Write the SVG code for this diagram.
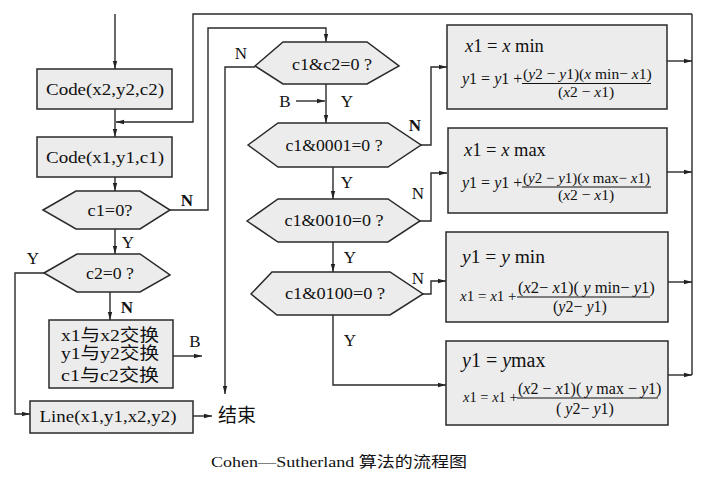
<svg xmlns="http://www.w3.org/2000/svg" width="703" height="478" viewBox="0 0 703 478">
<defs>
<marker id="ah" markerUnits="userSpaceOnUse" markerWidth="8" markerHeight="6" refX="8" refY="3" orient="auto">
<path d="M0,0.8 L8,3 L0,5.2 z" fill="#222"/>
</marker>
<style>
.box{fill:#ececec;stroke:#2a2a2a;stroke-width:1.5}
.ln{fill:none;stroke:#2a2a2a;stroke-width:1.4}
.t{font-family:"Liberation Serif","Noto Sans CJK SC",serif;fill:#111}
.c{text-anchor:middle}
.lb{font-family:"Liberation Serif",serif;font-size:17px;fill:#111;text-anchor:middle}
.b{font-weight:bold}
.i{font-style:italic}
.bar{stroke:#111;stroke-width:1}
</style>
</defs>
<rect width="703" height="478" fill="#fff"/>

<g id="connectors">
<path class="ln" d="M115,14 V69" marker-end="url(#ah)"/>
<path class="ln" d="M115,109 V137" marker-end="url(#ah)"/>
<path class="ln" d="M692,14 H193 V122 H116" marker-end="url(#ah)"/>
<path class="ln" d="M115,177 V191" marker-end="url(#ah)"/>
<path class="ln" d="M170,210 H208 V28 H326 V42" marker-end="url(#ah)"/>
<path class="ln" d="M115,229 V254" marker-end="url(#ah)"/>
<path class="ln" d="M44,273 H15 V414 H30" marker-end="url(#ah)"/>
<path class="ln" d="M110,292 V320" marker-end="url(#ah)"/>
<path class="ln" d="M173,356 H202" marker-end="url(#ah)"/>
<path class="ln" d="M193,416 H212" marker-end="url(#ah)"/>
<path class="ln" d="M255,67 H225 V394" marker-end="url(#ah)"/>
<path class="ln" d="M326,84 V123" marker-end="url(#ah)"/>
<path class="ln" d="M296,101 H325" marker-end="url(#ah)"/>
<path class="ln" d="M333,167 V199" marker-end="url(#ah)"/>
<path class="ln" d="M333,242 V272" marker-end="url(#ah)"/>
<path class="ln" d="M333,315 V385 H446" marker-end="url(#ah)"/>
<path class="ln" d="M421,145 H431 V67 H447" marker-end="url(#ah)"/>
<path class="ln" d="M420,221 H431 V173 H447" marker-end="url(#ah)"/>
<path class="ln" d="M423,294 H431 V281 H446" marker-end="url(#ah)"/>
<path class="ln" d="M667,61 H692" marker-end="url(#ah)"/>
<path class="ln" d="M667,172 H692" marker-end="url(#ah)"/>
<path class="ln" d="M668,282 H692" marker-end="url(#ah)"/>
<path class="ln" d="M668,375 H692" marker-end="url(#ah)"/>
<path class="ln" d="M692,14 V375"/>
<text class="lb b" x="187" y="206">N</text>
<text class="lb" x="128" y="248">Y</text>
<text class="lb" x="33" y="264">Y</text>
<text class="lb b" x="127" y="313">N</text>
<text class="lb" x="195" y="347">B</text>
<text class="lb" x="241" y="59">N</text>
<text class="lb" x="285" y="107">B</text>
<text class="lb" x="347" y="107">Y</text>
<text class="lb b" x="415" y="131">N</text>
<text class="lb" x="347" y="188">Y</text>
<text class="lb" x="418" y="199">N</text>
<text class="lb" x="350" y="263">Y</text>
<text class="lb" x="418" y="284">N</text>
<text class="lb" x="350" y="346">Y</text>
</g>

<g id="code2">
<rect class="box" x="37" y="69" width="135" height="40"/>
<text class="t c" x="105" y="95" font-size="17" textLength="118" lengthAdjust="spacingAndGlyphs">Code(x2,y2,c2)</text>
</g>
<g id="code1">
<rect class="box" x="37" y="137" width="135" height="40"/>
<text class="t c" x="105" y="163" font-size="17" textLength="118" lengthAdjust="spacingAndGlyphs">Code(x1,y1,c1)</text>
</g>
<g id="dec-c1">
<polygon class="box" points="43,210 76,191 140,191 170,210 140,229 76,229"/>
<text class="t c" x="110" y="216" font-size="17" textLength="45" lengthAdjust="spacingAndGlyphs">c1=0?</text>
</g>
<g id="dec-c2">
<polygon class="box" points="44,273 77,254 140,254 170,275 140,292 77,292"/>
<text class="t c" x="110" y="279" font-size="17" textLength="48" lengthAdjust="spacingAndGlyphs">c2=0 ?</text>
</g>
<g id="swap">
<rect class="box" x="49" y="320" width="124" height="68"/>
<text class="t" x="61" y="341" font-size="17" textLength="98" lengthAdjust="spacingAndGlyphs">x1与x2交换</text>
<text class="t" x="61" y="359" font-size="17" textLength="98" lengthAdjust="spacingAndGlyphs">y1与y2交换</text>
<text class="t" x="61" y="381" font-size="17" textLength="98" lengthAdjust="spacingAndGlyphs">c1与c2交换</text>
</g>
<g id="line">
<rect class="box" x="30" y="401" width="163" height="32"/>
<text class="t c" x="108" y="422" font-size="17" textLength="137" lengthAdjust="spacingAndGlyphs">Line(x1,y1,x2,y2)</text>
</g>
<g id="end">
<text class="t" x="218" y="422" font-size="19" fill="#333">结束</text>
</g>

<g id="dec-c1c2">
<polygon class="box" points="255,66 283,42 367,42 399,66 367,84 283,84"/>
<text class="t c" x="332" y="70" font-size="17" textLength="80" lengthAdjust="spacingAndGlyphs">c1&amp;c2=0 ?</text>
</g>
<g id="dec-0001">
<polygon class="box" points="248,145 278,123 388,123 421,145 388,167 278,167"/>
<text class="t c" x="334" y="151" font-size="17" textLength="97" lengthAdjust="spacingAndGlyphs">c1&amp;0001=0 ?</text>
</g>
<g id="dec-0010">
<polygon class="box" points="247,221 278,199 388,199 420,221 388,242 278,242"/>
<text class="t c" x="334" y="226" font-size="17" textLength="99" lengthAdjust="spacingAndGlyphs">c1&amp;0010=0 ?</text>
</g>
<g id="dec-0100">
<polygon class="box" points="251,294 272,272 390,272 423,294 390,315 277,315"/>
<text class="t c" x="335" y="299" font-size="17" textLength="100" lengthAdjust="spacingAndGlyphs">c1&amp;0100=0 ?</text>
</g>

<g id="xmin">
<rect class="box" x="447" y="25" width="220" height="84"/>
<text class="t" x="465" y="52" font-size="18.5"><tspan class="i">x</tspan>1 = <tspan class="i">x</tspan> min</text>
<text class="t" x="462" y="84" font-size="16"><tspan class="i">y</tspan>1 = <tspan class="i">y</tspan>1 +</text>
<text class="t" x="523" y="79" font-size="15.5">(<tspan class="i">y</tspan>2 − <tspan class="i">y</tspan>1)(<tspan class="i">x</tspan> min− <tspan class="i">x</tspan>1)</text>
<line class="bar" x1="522" y1="83.5" x2="651" y2="83.5"/>
<text class="t" x="558" y="97" font-size="15.5">(<tspan class="i">x</tspan>2 − <tspan class="i">x</tspan>1)</text>
</g>
<g id="xmax">
<rect class="box" x="448" y="128" width="219" height="85"/>
<text class="t" x="464" y="156" font-size="18.5"><tspan class="i">x</tspan>1 = <tspan class="i">x</tspan> max</text>
<text class="t" x="462" y="188" font-size="16"><tspan class="i">y</tspan>1 = <tspan class="i">y</tspan>1 +</text>
<text class="t" x="523" y="183" font-size="15">(<tspan class="i">y</tspan>2 − <tspan class="i">y</tspan>1)(<tspan class="i">x</tspan> max− <tspan class="i">x</tspan>1)</text>
<line class="bar" x1="522" y1="187" x2="651" y2="187"/>
<text class="t" x="558" y="200" font-size="15.5">(<tspan class="i">x</tspan>2 − <tspan class="i">x</tspan>1)</text>
</g>
<g id="ymin">
<rect class="box" x="446" y="232" width="222" height="90"/>
<text class="t" x="462" y="263" font-size="19.5"><tspan class="i">y</tspan>1 = <tspan class="i">y</tspan> min</text>
<text class="t" x="460" y="301" font-size="15"><tspan class="i">x</tspan>1 = <tspan class="i">x</tspan>1 +</text>
<text class="t" x="518" y="293" font-size="16.5">(<tspan class="i">x</tspan>2− <tspan class="i">x</tspan>1)( <tspan class="i">y</tspan> min− <tspan class="i">y</tspan>1)</text>
<line class="bar" x1="517" y1="297" x2="650" y2="297"/>
<text class="t" x="553" y="312" font-size="16">(<tspan class="i">y</tspan>2− <tspan class="i">y</tspan>1)</text>
</g>
<g id="ymax">
<rect class="box" x="446" y="341" width="222" height="84"/>
<text class="t" x="462" y="367" font-size="20"><tspan class="i">y</tspan>1 = <tspan class="i">y</tspan>max</text>
<text class="t" x="463" y="402" font-size="14.5"><tspan class="i">x</tspan>1 = <tspan class="i">x</tspan>1 +</text>
<text class="t" x="518" y="394" font-size="16">(<tspan class="i">x</tspan>2 − <tspan class="i">x</tspan>1)( <tspan class="i">y</tspan> max − <tspan class="i">y</tspan>1)</text>
<line class="bar" x1="517" y1="398" x2="658" y2="398"/>
<text class="t" x="556" y="414" font-size="16">( <tspan class="i">y</tspan>2− <tspan class="i">y</tspan>1)</text>
</g>

<g id="caption">
<text class="t c" x="339" y="467" font-size="15" textLength="256" lengthAdjust="spacingAndGlyphs">Cohen—Sutherland 算法的流程图</text>
</g>
</svg>
